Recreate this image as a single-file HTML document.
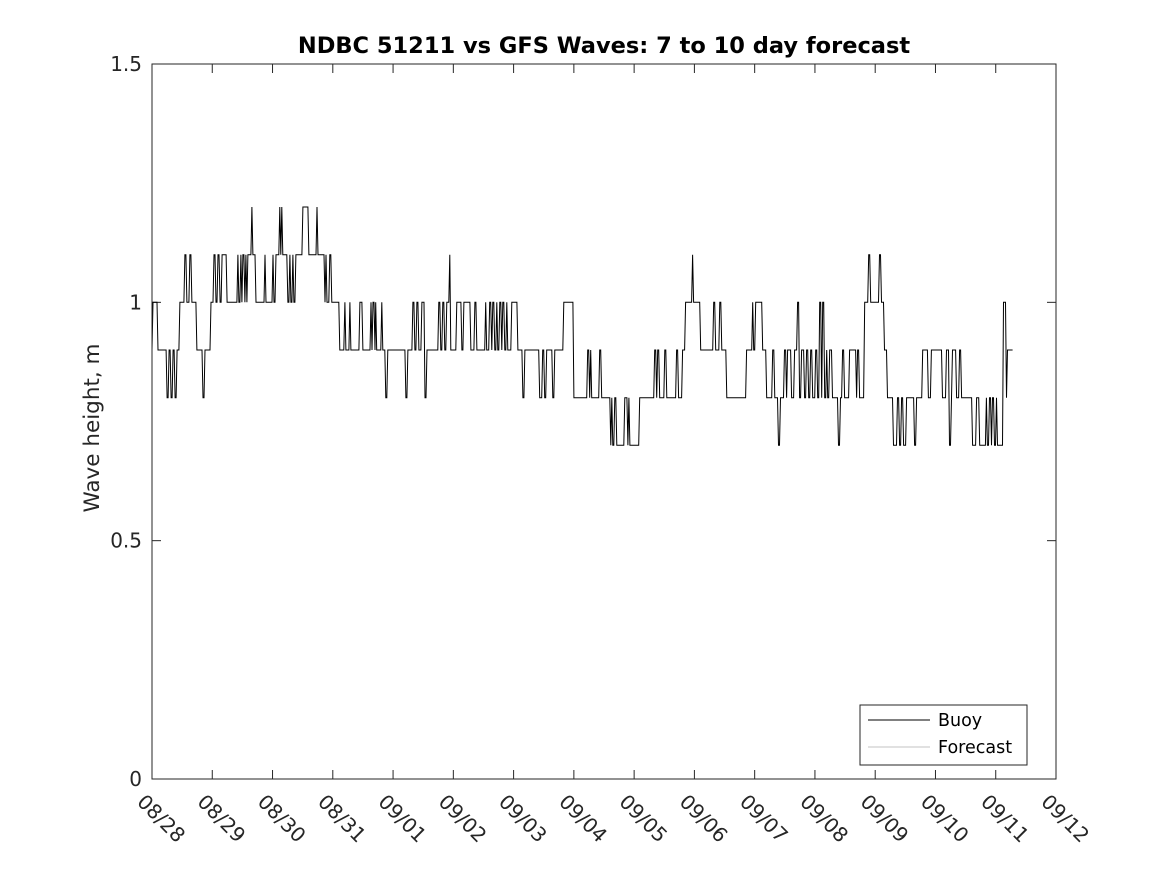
<!DOCTYPE html>
<html><head><meta charset="utf-8"><style>
body{margin:0;background:#fff;}
svg{display:block;font-family:"DejaVu Sans","Liberation Sans",sans-serif;}
</style></head><body>
<svg id="chart" width="1167" height="875" viewBox="0 0 1167 875">
<rect width="1167" height="875" fill="#fff"/>
<text x="604" y="53" text-anchor="middle" font-size="22.5" font-weight="bold" fill="#000">NDBC 51211 vs GFS Waves: 7 to 10 day forecast</text>
<text transform="translate(99,428) rotate(-90)" text-anchor="middle" font-size="21.5" fill="#262626">Wave height, m</text>
<g id="axes"></g>
<g id="series"></g>
<rect x="152" y="64" width="904" height="715" fill="none" stroke="#262626" stroke-width="1"/>
<g>
<rect x="860" y="705" width="167" height="60" fill="#fff" stroke="#262626" stroke-width="1"/>
<line x1="868" y1="720" x2="930" y2="720" stroke="#000" stroke-width="1"/>
<text x="938" y="726" font-size="17.5" fill="#000">Buoy</text>
<line x1="868" y1="747" x2="930" y2="747" stroke="#888" stroke-width="0.6"/>
<text x="938" y="753" font-size="17.5" fill="#000">Forecast</text>
</g>
</svg>
<script>
const xTickLabels = ["08/28","08/29","08/30","08/31","09/01","09/02","09/03","09/04","09/05","09/06","09/07","09/08","09/09","09/10","09/11","09/12"];
const yTicks = [0, 0.5, 1, 1.5];
const yTickLabels = ["0","0.5","1","1.5"];
const buoyHours = [0,0.4,2.4,6,6.8,7.6,8.4,9.2,10,11.1,13.1,13.9,15.1,15.9,17.9,20.3,21.1,23.5,24.7,25.5,26.3,27.1,27.9,29.9,34.2,34.6,35.4,35.8,36.2,37,37.4,37.8,38.2,39.8,40.2,41.4,45,45.4,48.2,48.6,49.4,50.9,51.3,51.7,52.1,54.1,54.9,55.3,56.1,56.5,57.3,60.1,62.5,65.7,66.1,68.9,69.3,69.7,70.8,71.6,74.8,76.8,77.2,78.8,79.2,82.8,84,87.2,87.6,88,88.8,89.1,89.5,91.5,91.9,93.1,93.9,101.1,101.9,103.9,104.7,105.5,106.3,107.5,108.7,109.5,114.2,115,115.8,116.6,117.4,118.6,119,121.4,123.4,124.2,127,128.6,129.4,132.9,133.3,134.5,135.3,135.7,136.5,137.3,137.7,138.5,139.3,139.7,140.5,141.3,141.7,143.3,145.7,147.7,148.5,154.4,155.6,156.4,157.2,159.6,160.4,164,168,173.5,174.3,174.7,175.1,178.3,179.1,182.7,183.1,183.5,184.3,185.1,188.3,189.5,189.9,190.3,194.2,200.2,201,201.4,202.2,204.2,205,208.9,209.7,211.3,212.5,215.3,215.7,218.5,223.7,224.5,226.1,226.9,228.9,236.8,239.2,239.6,240.4,243.2,244.8,247.2,248,249.5,250.3,251.9,252.7,253.1,254.7,255.9,257.1,257.9,258.7,259.9,260.7,261.5,262.3,263.1,264.3,265.1,265.9,266.7,267.1,267.9,268.7,269.1,269.9,271,273.4,274.2,275,275.8,277.8,280.6,281,281.8,283.8,285.4,286.2,289.7,290.5,291.7,292.9,295.3,296.9,297.7,298.5,299.3,300.5,303.7,304.5,306.9,309.2,310.4,314.8,316.4,317.6,318.4,318.8,320.4,321.6,322.4,326.8,328.4,329.6,332.3,332.7,333.5,334.3,334.7,335.5,336.3,336.7,339.1,340.3,340.7,342.7];
const buoyHeights = [0.9,1.0,0.9,0.8,0.9,0.8,0.9,0.8,0.9,1.0,1.1,1.0,1.1,1.0,0.9,0.8,0.9,1.0,1.1,1.0,1.1,1.0,1.1,1.0,1.1,1.0,1.1,1.0,1.1,1.0,1.1,1.0,1.1,1.2,1.1,1.0,1.1,1.0,1.1,1.0,1.1,1.2,1.1,1.2,1.1,1.0,1.1,1.0,1.1,1.0,1.1,1.2,1.1,1.2,1.1,1.0,1.1,1.0,1.1,1.0,0.9,1.0,0.9,1.0,0.9,1.0,0.9,1.0,0.9,1.0,0.9,1.0,0.9,1.0,0.9,0.8,0.9,0.8,0.9,1.0,0.9,1.0,0.9,1.0,0.8,0.9,1.0,0.9,1.0,0.9,1.0,1.1,0.9,1.0,0.9,1.0,0.9,1.0,0.9,1.0,0.9,1.0,0.9,1.0,0.9,1.0,0.9,1.0,0.9,1.0,0.9,1.0,0.9,1.0,0.9,0.8,0.9,0.8,0.9,0.8,0.9,0.8,0.9,1.0,0.8,0.9,0.8,0.9,0.8,0.9,0.8,0.7,0.8,0.7,0.8,0.7,0.8,0.7,0.8,0.7,0.8,0.9,0.8,0.9,0.8,0.9,0.8,0.9,0.8,0.9,1.0,1.1,1.0,0.9,1.0,0.9,1.0,0.9,0.8,0.9,1.0,0.9,1.0,0.9,0.8,0.9,0.8,0.7,0.8,0.9,0.8,0.9,0.8,0.9,1.0,0.8,0.9,0.8,0.9,0.8,0.9,0.8,0.9,0.8,1.0,0.8,1.0,0.8,0.9,0.8,0.9,0.8,0.7,0.8,0.9,0.8,0.9,0.8,0.9,0.8,1.0,1.1,1.0,1.1,1.0,0.9,0.8,0.7,0.8,0.7,0.8,0.7,0.8,0.7,0.8,0.9,0.8,0.9,0.8,0.9,0.7,0.8,0.9,0.8,0.9,0.8,0.7,0.8,0.7,0.8,0.7,0.8,0.7,0.8,0.7,0.8,0.7,1.0,0.8,0.9,0.9];

const NS = "http://www.w3.org/2000/svg";
const X0 = 152, X1 = 1056, Y0 = 779, Y1 = 64;
const xDays = d => X0 + d * (X1 - X0) / (xTickLabels.length - 1);
const xHours = h => xDays(h / 24);
const yScale = v => Y0 - v * (Y0 - Y1) / 1.5;

const axes = document.getElementById('axes');
function mk(tag, attrs, parent){ const e = document.createElementNS(NS, tag); for (const k in attrs) e.setAttribute(k, attrs[k]); parent.appendChild(e); return e; }

xTickLabels.forEach((lab, i) => {
  const x = xDays(i);
  const t1 = mk('line', {x1:x, y1:Y0, x2:x, y2:Y0-9, stroke:'#262626'}, axes);
  
  
  const t2 = mk('line', {x1:x, y1:Y1, x2:x, y2:Y1+9, stroke:'#262626'}, axes);
  
  
  const tx = mk('text', {x:0, y:0, 'font-size':20, fill:'#262626', transform:`translate(${x-16},${803}) rotate(45)`}, axes);
  tx.textContent = lab;
  
  
});
yTicks.forEach((v, i) => {
  const y = yScale(v);
  const t1 = mk('line', {x1:X0, y1:y, x2:X0+9, y2:y, stroke:'#262626'}, axes);
  
  
  const t2 = mk('line', {x1:X1, y1:y, x2:X1-9, y2:y, stroke:'#262626'}, axes);
  
  
  const tx = mk('text', {x:X0-10, y:y+7, 'text-anchor':'end', 'font-size':20, fill:'#262626'}, axes);
  tx.textContent = yTickLabels[i];
  
  
});

const pts = [];
for (let i = 0; i < buoyHours.length; i++) {
  pts.push([xHours(buoyHours[i]), yScale(buoyHeights[i])]);
  if (i < buoyHours.length - 1) {
    const hEnd = Math.max(buoyHours[i], buoyHours[i+1] - 0.4);
    pts.push([xHours(hEnd), yScale(buoyHeights[i])]);
  }
}
const line = mk('polyline', {points: pts.map(p => p[0].toFixed(1)+','+p[1].toFixed(1)).join(' '), fill:'none', stroke:'#000', 'stroke-width':1}, document.getElementById('series'));


</script>
</body></html>
